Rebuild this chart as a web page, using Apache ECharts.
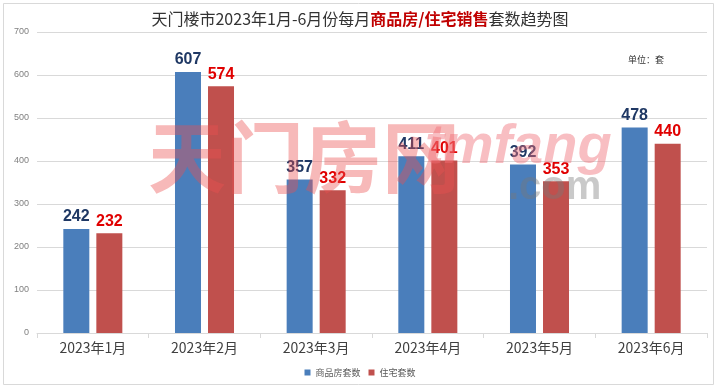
<!DOCTYPE html>
<html><head><meta charset="utf-8">
<script src="https://cdn.jsdelivr.net/npm/echarts@6/dist/echarts.min.js"></script>
<style>html,body{margin:0;padding:0;background:#fff}#c{width:720px;height:388px}</style>
</head><body><div id="c"></div>
<script>
const categories = ['2023年1月','2023年2月','2023年3月','2023年4月','2023年5月','2023年6月'];
const commercial = [242, 607, 357, 411, 392, 478];
const residential = [232, 574, 332, 401, 353, 440];
const seriesNames = ['商品房套数','住宅套数'];
const yTicks = {min:0, max:700, interval:100};

const chart = echarts.init(document.getElementById('c'));
chart.setOption({
  animation:false,
  backgroundColor:'#fff',
  title:{
    text:'{a|天门楼市2023年1月-6月份每月}{b|商品房/住宅销售}{a|套数趋势图}',
    left:'center', top:6,
    textStyle:{fontWeight:'normal',rich:{
      a:{fontSize:16,color:'#333',fontWeight:'normal',fontFamily:'"Noto Sans CJK SC"'},
      b:{fontSize:16,color:'#c00000',fontWeight:'bold',fontFamily:'"Noto Sans CJK SC"'}
    }}
  },
  graphic:[
    {type:'rect',shape:{x:3.5,y:3.5,width:710,height:381},style:{fill:'none',stroke:'#d9d9d9',lineWidth:1},silent:true,z:-1},
    {type:'text',left:628,top:55,style:{text:'单位：套',fontSize:9,fill:'#333',fontFamily:'"Noto Sans CJK SC"'}},
    {type:'text',left:148,top:118,z:100,style:{text:'天门房网',fontSize:78,fontWeight:'bold',fill:'rgba(235,80,80,0.4)',fontFamily:'"Noto Sans CJK SC"'}},
    {type:'text',left:425,top:120,z:100,style:{text:'tmfang',fontSize:56,fontWeight:'bold',fontStyle:'italic',fill:'rgba(240,110,120,0.45)',fontFamily:'"Liberation Sans"'}},
    {type:'text',left:508,top:168,z:100,style:{text:'.com',fontSize:40,fontWeight:'bold',fill:'rgba(120,120,120,0.4)',fontFamily:'"Liberation Sans"'}}
  ],
  legend:{
    bottom:6, left:'center', itemWidth:6, itemHeight:6, itemGap:8,
    icon:'rect',
    textStyle:{fontSize:9,color:'#595959',fontFamily:'"Noto Sans CJK SC"'},
    data:seriesNames
  },
  grid:{left:37,right:13,top:32,bottom:55},
  xAxis:{
    type:'category', data:categories,
    axisLine:{lineStyle:{color:'#d9d9d9'}},
    axisTick:{show:true,lineStyle:{color:'#d9d9d9'}},
    axisLabel:{fontSize:14,color:'#404040',margin:8,fontFamily:'"Noto Sans CJK SC"'}
  },
  yAxis:{
    type:'value', min:yTicks.min, max:yTicks.max, interval:yTicks.interval,
    axisLine:{show:false}, axisTick:{show:false},
    splitLine:{lineStyle:{color:'#d9d9d9'}},
    axisLabel:{fontSize:9,color:'#808080',margin:8}
  },
  series:[
    {name:seriesNames[0],type:'bar',data:commercial,barWidth:26,barGap:'27%',
     itemStyle:{color:'#4a7ebb'},
     label:{show:true,position:'top',distance:4,fontSize:16,fontWeight:'bold',color:'#1f3864',fontFamily:'"Liberation Sans"'}},
    {name:seriesNames[1],type:'bar',data:residential,barWidth:26,
     itemStyle:{color:'#c0504d'},
     label:{show:true,position:'top',distance:4,fontSize:16,fontWeight:'bold',color:'#e00000',fontFamily:'"Liberation Sans"'}}
  ]
});
</script></body></html>
